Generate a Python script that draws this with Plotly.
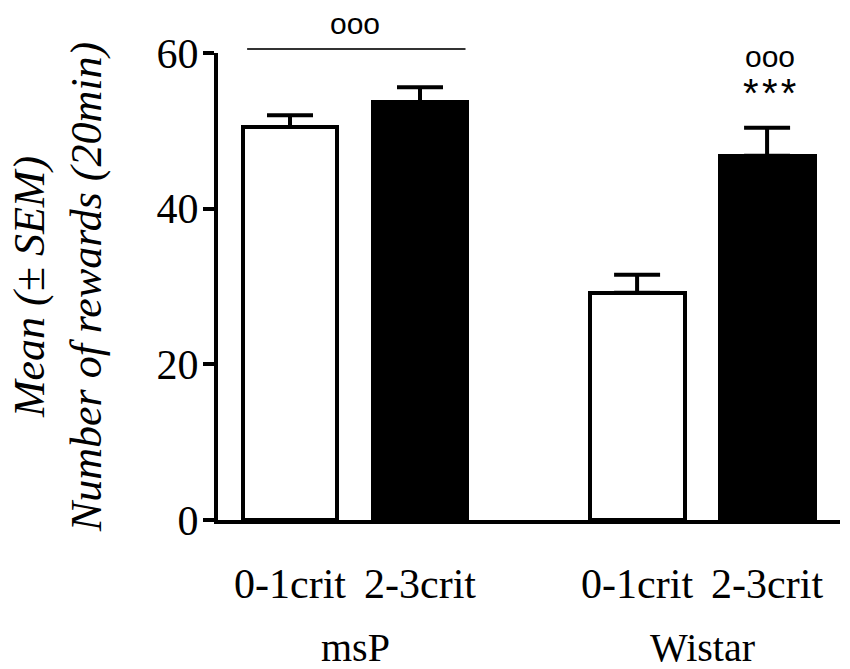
import numpy as np
from plotly import graph_objects as go

# values (number of rewards in 20 min, mean and SEM)
groups = ['msP', 'Wistar']
conditions = ['0-1crit', '2-3crit']
means = [50.5, 53.7, 29.2, 46.8]
sems = [1.5, 1.9, 2.3, 3.6]
fills = ['white', 'black', 'white', 'black']

# bar positions: two bars per group, with a gap between the groups
group_gap = 0.67
pos = []
for g in range(len(groups)):
    for c in range(len(conditions)):
        pos.append(g * (len(conditions) + group_gap) + c)
pos = np.array(pos)
group_centers = [pos[2 * g:2 * g + 2].mean() for g in range(len(groups))]

serif = 'Liberation Serif, Times New Roman, serif'
sans = 'Liberation Sans, Arial, sans-serif'

fig = go.Figure()
fig.add_trace(go.Bar(
    x=pos,
    y=means,
    width=0.73,
    marker={'color': fills, 'line': {'color': 'black', 'width': 4}},
    error_y={'type': 'data', 'array': sems, 'symmetric': False,
             'arrayminus': [0] * len(sems), 'color': 'black',
             'thickness': 4, 'width': 23},
    showlegend=False,
))

# significance marks
fig.add_shape(type='line', xref='x', yref='paper',
              x0=pos[0] - 0.33, x1=pos[1] + 0.35, y0=1.0086, y1=1.0086,
              line={'color': '#333333', 'width': 2})
fig.add_annotation(x=group_centers[0], y=1.064, yref='paper', yanchor='middle',
                   text='ooo', showarrow=False,
                   font={'family': sans, 'size': 30, 'color': 'black'})
fig.add_annotation(x=pos[3] + 0.02, y=59.5, yanchor='middle', text='ooo',
                   showarrow=False,
                   font={'family': sans, 'size': 30, 'color': 'black'})
fig.add_annotation(x=pos[3] + 0.02, y=54.9, yanchor='middle',
                   text='*\u200a*\u200a*', showarrow=False,
                   font={'family': sans, 'size': 40, 'color': 'black'})

# group labels under the condition labels
for g, name in enumerate(groups):
    fig.add_annotation(x=group_centers[g], xref='x', y=-0.272, yref='paper',
                       yanchor='middle', text=name, showarrow=False,
                       font={'family': serif, 'size': 40, 'color': 'black'})

fig.update_layout(
    width=850, height=669,
    margin={'l': 218, 'r': 10, 't': 53, 'b': 149},
    plot_bgcolor='white', paper_bgcolor='white',
    font={'family': serif, 'color': 'black'},
    bargap=0,
)
fig.update_xaxes(
    range=[-0.554, 4.231],
    tickvals=pos, ticktext=conditions * len(groups),
    ticks='', ticklabelstandoff=24,
    tickfont={'family': serif, 'size': 42, 'color': 'black'},
    showline=True, linecolor='black', linewidth=4,
    showgrid=False, zeroline=False,
)
fig.update_yaxes(
    range=[0, 60], tickvals=[0, 20, 40, 60],
    ticks='outside', ticklen=11, tickwidth=4, tickcolor='black',
    ticklabelstandoff=-4,
    tickfont={'family': serif, 'size': 42, 'color': 'black'},
    showline=True, linecolor='black', linewidth=4,
    showgrid=False, zeroline=False,
    title={'text': '<i>Mean (± SEM)</i><br><i>Number of rewards (20min)</i>',
           'font': {'family': serif, 'size': 44, 'color': 'black'},
           'standoff': 42},
)

# drop the page's default body margin so the figure sits at the top-left corner
fig.write_html('out.html', config={'displayModeBar': False},
               post_script="document.body.style.margin='0';")
